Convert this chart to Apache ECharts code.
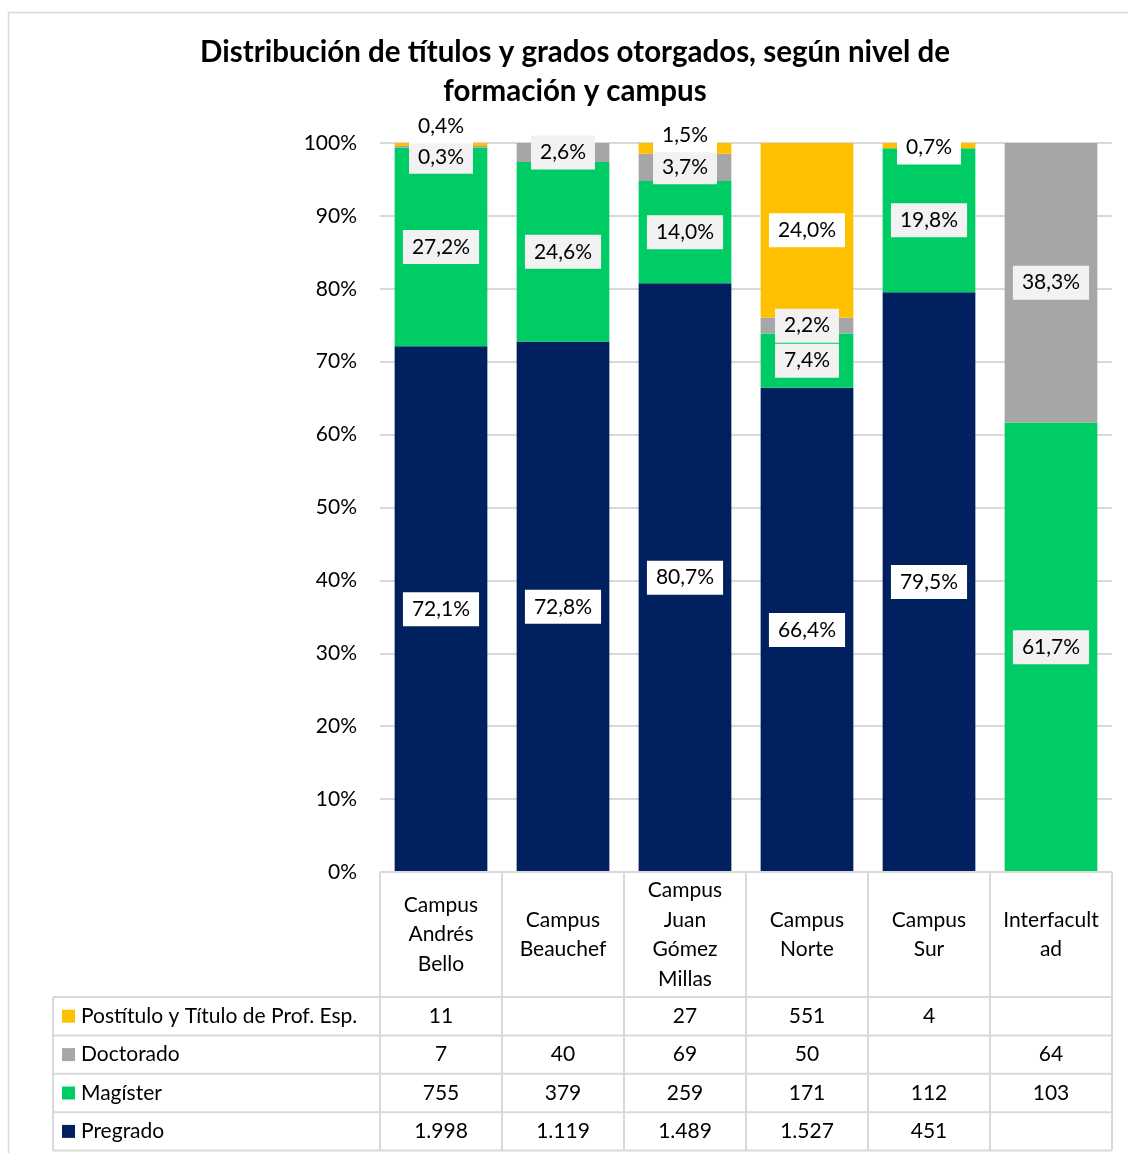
<!DOCTYPE html>
<html><head><meta charset="utf-8">
<script src="https://cdn.jsdelivr.net/npm/echarts@6/dist/echarts.min.js"></script>
<style>html,body{margin:0;padding:0;background:#fff}#c{width:1128px;height:1153px}</style>
</head><body><div id="c"></div>
<script>
// ---------- DATA ----------
const title = 'Distribución de títulos y grados otorgados, según nivel de\nformación y campus';
const categories = ['Campus Andrés Bello', 'Campus Beauchef', 'Campus Juan Gómez Millas', 'Campus Norte', 'Campus Sur', 'Interfacultad'];
const categoryLabels = ['Campus\nAndrés\nBello', 'Campus\nBeauchef', 'Campus\nJuan\nGómez\nMillas', 'Campus\nNorte', 'Campus\nSur', 'Interfacult\nad'];
const postituloName = 'Postítulo y Título de Prof. Esp.';
const doctoradoName = 'Doctorado';
const magisterName = 'Magíster';
const pregradoName = 'Pregrado';
const postitulo = [11, null, 27, 551, 4, null];
const doctorado = [7, 40, 69, 50, null, 64];
const magister = [755, 379, 259, 171, 112, 103];
const pregrado = [1998, 1119, 1489, 1527, 451, null];

// ---------- STYLE ----------
const FONT = 'Lato, "Noto Sans", sans-serif';
const FS = 21;
const colors = { post: '#FFC000', doc: '#A6A6A6', mag: '#00CC66', pre: '#002060' };
const lineCol = '#D9D9D9';

const totals = categories.map((_, i) => [postitulo, doctorado, magister, pregrado].reduce((s, a) => s + (a[i] || 0), 0));
const fmtPct = v => v.toFixed(1).replace('.', ',') + '%';
const fmtNum = v => v == null ? '' : String(v).replace(/\B(?=(\d{3})+(?!\d))/g, '.');

function seriesData(arr, offsets) {
  return arr.map((v, i) => {
    if (v == null) return '-';
    const item = { value: v / totals[i] * 100 };
    if (offsets && offsets[i]) item.label = { offset: offsets[i] };
    return item;
  });
}
function mkSeries(name, arr, color, labelBg, offsets) {
  return {
    name, type: 'bar', stack: 'total', barWidth: '76%',
    itemStyle: { color },
    data: seriesData(arr, offsets),
    label: {
      show: true, position: 'inside', formatter: p => fmtPct(p.value),
      backgroundColor: labelBg, padding: [7, 9, 6, 9], color: '#000',
      fontSize: FS, fontFamily: FONT
    },
    emphasis: { disabled: true }
  };
}

const chart = echarts.init(document.getElementById('c'), null, { renderer: 'canvas' });
chart.setOption({
  animation: false,
  backgroundColor: '#fff',
  grid: { left: 380, right: 16, top: 143, bottom: 281, containLabel: false },
  xAxis: {
    type: 'category', data: categories,
    axisLabel: { show: false }, axisTick: { show: false }, axisLine: { show: false }
  },
  yAxis: {
    type: 'value', min: 0, max: 100, interval: 10,
    axisLabel: { formatter: '{value}%', fontSize: FS, fontFamily: FONT, color: '#000', margin: 23 },
    axisLine: { show: false }, axisTick: { show: false },
    splitLine: { lineStyle: { color: lineCol, width: 2 } }
  },
  series: [
    mkSeries(pregradoName, pregrado, colors.pre, '#FFFFFF'),
    mkSeries(magisterName, magister, colors.mag, '#F2F2F2'),
    mkSeries(doctoradoName, doctorado, colors.doc, '#F2F2F2', { 0: [0, 10] }),
    mkSeries(postituloName, postitulo, colors.post, '#FFFFFF', { 0: [0, -18], 2: [0, -13], 4: [0, 2] })
  ]
});

// ---------- TABLE + TITLE + FRAME (graphics derived from grid) ----------
function buildGraphics() {
  const c0 = chart.convertToPixel({ xAxisIndex: 0 }, categories[0]);
  const c1 = chart.convertToPixel({ xAxisIndex: 0 }, categories[1]);
  const bw = c1 - c0;
  const leftX = c0 - bw / 2;
  const rightX = leftX + bw * categories.length;
  const y0 = chart.convertToPixel({ yAxisIndex: 0 }, 0);
  const headerH = 125, rowH = 38.4, legendLeft = 53;
  const rows = [
    { name: postituloName, data: postitulo, color: colors.post },
    { name: doctoradoName, data: doctorado, color: colors.doc },
    { name: magisterName, data: magister, color: colors.mag },
    { name: pregradoName, data: pregrado, color: colors.pre }
  ];
  const els = [];
  const ln = (x1, y1, x2, y2) => els.push({ type: 'line', silent: true, z: 10,
    shape: { x1, y1, x2, y2 }, style: { stroke: lineCol, lineWidth: 2 } });
  const tableBottom = y0 + headerH + rowH * rows.length;
  // frame
  els.push({ type: 'rect', silent: true, z: 0, shape: { x: 8.5, y: 12.5, width: 1200, height: 1200 },
    style: { fill: 'none', stroke: lineCol, lineWidth: 1.5 } });
  // title
  els.push({ type: 'text', silent: true, z: 10, x: 575, y: 71.5,
    style: { text: title, fontFamily: FONT, fontWeight: 'bold', fontSize: 29.5, lineHeight: 39,
      fill: '#000', align: 'center', verticalAlign: 'middle' } });
  // horizontal lines
  ln(leftX, y0, rightX, y0);
  for (let r = 0; r <= rows.length; r++) {
    const y = y0 + headerH + rowH * r;
    ln(legendLeft, y, rightX, y);
  }
  // vertical lines
  for (let i = 0; i <= categories.length; i++) {
    const x = leftX + bw * i;
    ln(x, y0, x, tableBottom);
  }
  ln(legendLeft, y0 + headerH, legendLeft, tableBottom);
  // header labels
  categoryLabels.forEach((t, i) => {
    els.push({ type: 'text', silent: true, z: 10, x: leftX + bw * (i + 0.5), y: y0 + headerH / 2,
      style: { text: t, fontFamily: FONT, fontSize: FS, lineHeight: 29.5, fill: '#000',
        align: 'center', verticalAlign: 'middle' } });
  });
  // rows
  rows.forEach((row, r) => {
    const cy = y0 + headerH + rowH * (r + 0.5);
    els.push({ type: 'rect', silent: true, z: 10, shape: { x: 62, y: cy - 6.5, width: 13, height: 13 },
      style: { fill: row.color } });
    els.push({ type: 'text', silent: true, z: 10, x: 81, y: cy,
      style: { text: row.name, fontFamily: FONT, fontSize: FS, fill: '#000', align: 'left', verticalAlign: 'middle' } });
    row.data.forEach((v, i) => {
      if (v == null) return;
      els.push({ type: 'text', silent: true, z: 10, x: leftX + bw * (i + 0.5), y: cy,
        style: { text: fmtNum(v), fontFamily: FONT, fontSize: FS, fill: '#000', align: 'center', verticalAlign: 'middle' } });
    });
  });
  chart.setOption({ graphic: els });
}
buildGraphics();
</script>
</body></html>
